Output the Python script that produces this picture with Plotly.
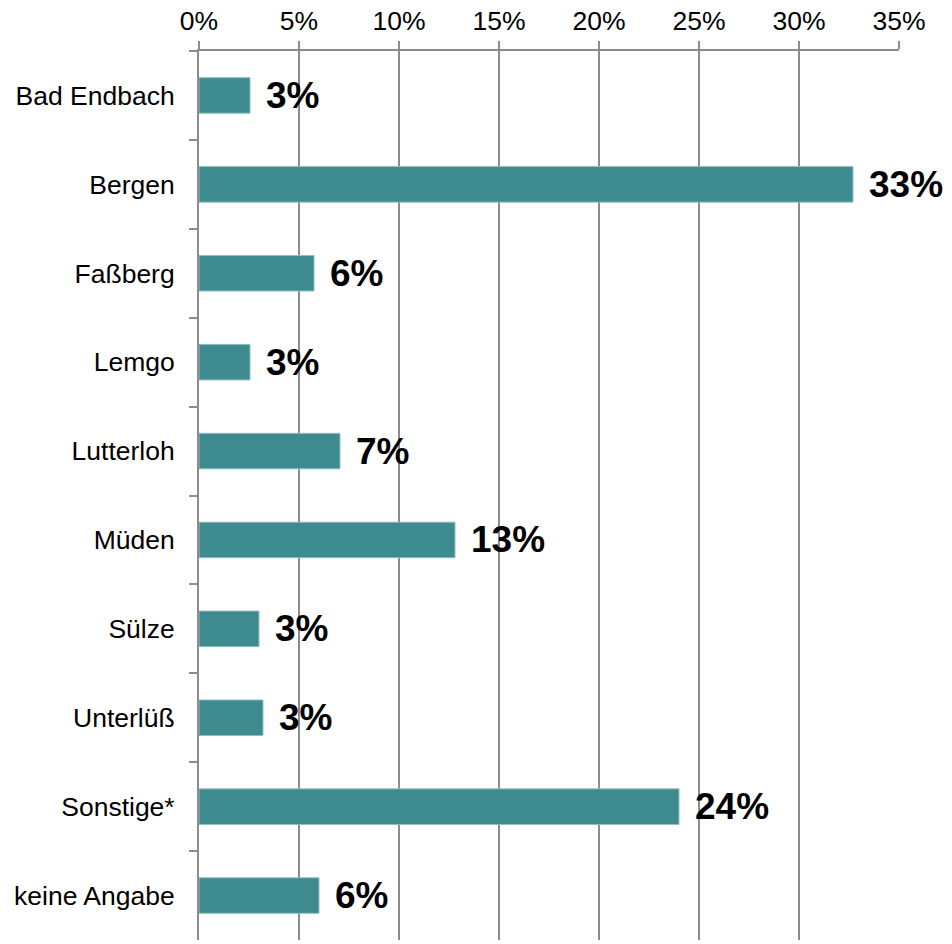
import plotly.graph_objects as go

categories = ["Bad Endbach", "Bergen", "Faßberg", "Lemgo", "Lutterloh",
              "Müden", "Sülze", "Unterlüß", "Sonstige*", "keine Angabe"]
values = [2.55, 32.7, 5.75, 2.55, 7.05, 12.8, 3.0, 3.2, 24.0, 6.0]
labels = ["3%", "33%", "6%", "3%", "7%", "13%", "3%", "3%", "24%", "6%"]
x_ticks = [0, 5, 10, 15, 20, 25, 30, 35]

FONT = "Liberation Sans, Arial, sans-serif"
GRAY = "#8c8c8c"

fig = go.Figure()
fig.add_trace(go.Bar(
    x=values, y=categories, orientation="h", width=0.4,
    marker=dict(color="#3e8b8f", line=dict(color="#8fc0c2", width=1)),
    hoverinfo="skip",
))

for v, c, t in zip(values, categories, labels):
    fig.add_annotation(x=v, y=c, text=f"<b>{t}</b>", showarrow=False, xanchor="left",
                       yanchor="middle", xshift=14,
                       font=dict(family=FONT, size=37, color="black"))

fig.update_layout(
    width=952, height=944,
    margin=dict(l=191, r=61, t=43, b=12, autoexpand=False),
    paper_bgcolor="white", plot_bgcolor="white",
    showlegend=False,
    font=dict(family=FONT, color="black"),
    xaxis=dict(side="top", range=[0, 35], tickvals=x_ticks,
               ticktext=[f"{t}%" for t in x_ticks],
               showgrid=True, gridcolor=GRAY, gridwidth=2,
               showline=True, linecolor=GRAY, linewidth=2,
               ticks="outside", ticklen=8, tickcolor=GRAY, tickwidth=2,
               tickfont=dict(size=26.5, family=FONT, color="black"),
               zeroline=False, fixedrange=True),
    yaxis=dict(autorange="reversed", tickson="boundaries",
               showline=True, linecolor=GRAY, linewidth=2,
               ticks="outside", ticklen=8, tickcolor=GRAY, tickwidth=2,
               tickfont=dict(size=26.5, family=FONT, color="black"),
               showgrid=False, zeroline=False, ticklabelstandoff=17),
)

fig.write_html("out.html")
